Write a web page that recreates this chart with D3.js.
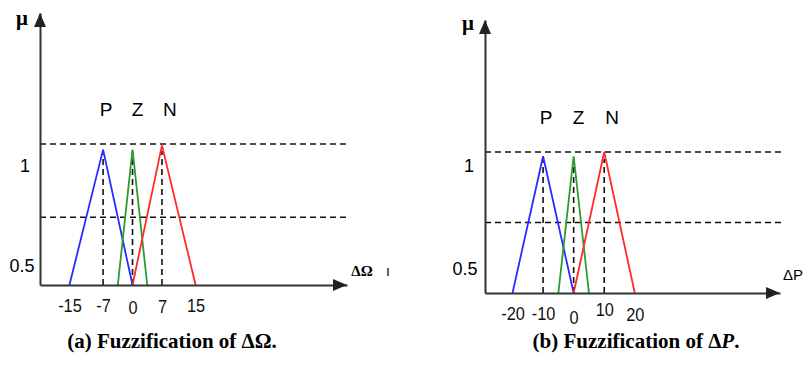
<!DOCTYPE html>
<html>
<head>
<meta charset="utf-8">
<script src="https://cdn.jsdelivr.net/npm/d3@7"></script>
<style>
  body { margin: 0; background: #fff; }
  svg { display: block; }
  .tick text { font-family: "Liberation Sans", Arial, sans-serif; }
</style>
</head>
<body>
<div id="chart-area"></div>
<script>
// fuzzy sets: [start, peak, end] and peak height
var setNames = ["P", "Z", "N"]
var setColors = ["#2b2bff", "#2f9a2f", "#ff2a2a"]

var omegaTicks = [-15, -7, 0, 7, 15]
var omegaSets = [[-15, -7, 0], [-3.5, 0, 3.5], [0, 7, 15]]
var omegaPeaks = [0.96, 0.96, 0.99]
var omegaDash = [1, 0.48]

var powerTicks = [-20, -10, 0, 10, 20]
var powerSets = [[-20, -10, 0], [-5, 0, 5], [0, 10, 20]]
var powerPeaks = [0.97, 0.97, 1.0]
var powerDash = [1, 0.5]

var yLabels = ["1", "0.5"]

// layout for the two panels
var panels = [
    {
        ticks: omegaTicks, sets: omegaSets, peaks: omegaPeaks, dash: omegaDash,
        xDomain: [-22, 51], xRange: [40, 347], yBase: 285, yTop: 13,
        tickDy: [0, 0, 2, 1, 0], yLabelPos: [[25, 172], [22, 272]],
        muPos: [22, 25], xLabel: "ΔΩ", xLabelPos: [362, 276], xLabelBold: true,
        caption: ["(a) Fuzzification of ΔΩ.", ""], captionX: 172
    },
    {
        ticks: powerTicks, sets: powerSets, peaks: powerPeaks, dash: powerDash,
        xDomain: [-29, 67.5], xRange: [485, 780], yBase: 293, yTop: 20,
        tickDy: [0, 0, 4, -4, 1], yLabelPos: [[469, 172], [465, 275]],
        muPos: [468, 30], xLabel: "ΔP", xLabelPos: [793, 280], xLabelBold: false,
        caption: ["(b) Fuzzification of Δ", "P", "."], captionX: 636
    }
]
var nameDx = [3, 5, 8]

var svg = d3.select("#chart-area").append("svg")
    .attr("width", 809)
    .attr("height", 365)

panels.forEach(function(p) {
    var x = d3.scaleLinear().domain(p.xDomain).range(p.xRange)
    // 141 px per unit of membership
    var y = d3.scaleLinear().domain([0, (p.yBase - p.yTop) / 141]).range([p.yBase, p.yTop])
    var x0 = p.xRange[0]
    var g = svg.append("g")

    // dashed horizontal levels
    g.selectAll(".hdash")
        .data(p.dash)
        .enter().append("line")
        .attr("x1", x0).attr("x2", p.xRange[1] + 3)
        .attr("y1", function(d) { return y(d) })
        .attr("y2", function(d) { return y(d) })
        .attr("stroke", "#111").attr("stroke-width", 1.6)
        .attr("stroke-dasharray", "6,4")

    // dashed verticals under each peak
    g.selectAll(".vdash")
        .data(p.sets)
        .enter().append("line")
        .attr("x1", function(d) { return x(d[1]) })
        .attr("x2", function(d) { return x(d[1]) })
        .attr("y1", y(0))
        .attr("y2", y(0.95))
        .attr("stroke", "#111").attr("stroke-width", 1.6)
        .attr("stroke-dasharray", "6,4")

    // triangles
    var line = d3.line()
        .x(function(d) { return x(d[0]) })
        .y(function(d) { return y(d[1]) })
    g.selectAll(".tri")
        .data(p.sets)
        .enter().append("path")
        .attr("d", function(d, i) {
            return line([[d[0], 0], [d[1], p.peaks[i]], [d[2], 0]])
        })
        .attr("fill", "none")
        .attr("stroke", function(d, i) { return setColors[i] })
        .attr("stroke-width", 1.8)

    // set names
    g.selectAll(".name")
        .data(p.sets)
        .enter().append("text")
        .attr("x", function(d, i) { return x(d[1]) + nameDx[i] })
        .attr("y", y(1.2))
        .attr("text-anchor", "middle")
        .style("font-family", "Liberation Sans, Arial, sans-serif")
        .style("font-size", "19px")
        .text(function(d, i) { return setNames[i] })

    // x axis
    var xAxis = d3.axisBottom(x)
        .tickValues(p.ticks)
        .tickFormat(function(d) { return String(d) })
        .tickSize(0)
        .tickSizeOuter(0)
        .tickPadding(8)
    var ax = g.append("g")
        .attr("transform", "translate(0," + p.yBase + ")")
        .call(xAxis)
    ax.select(".domain").attr("stroke", "#333").attr("stroke-width", 2)
    ax.selectAll(".tick text")
        .attr("dy", function(d, i) { return (p.tickDy[i] + 19) + "px" })
        .attr("transform", "scale(0.86,1)")
        .style("font-size", "19px")
        .attr("fill", "#111")

    // y axis
    var yAxis = d3.axisLeft(y).tickValues([]).tickSize(0).tickSizeOuter(0)
    var ay = g.append("g")
        .attr("transform", "translate(" + x0 + ",0)")
        .call(yAxis)
    ay.select(".domain").attr("stroke", "#333").attr("stroke-width", 2)

    // arrow heads
    var xe = p.xRange[1]
    g.append("path")
        .attr("d", "M" + xe + "," + p.yBase + "L" + (xe - 14) + "," + (p.yBase - 6) + "L" + (xe - 14) + "," + (p.yBase + 6) + "Z")
        .attr("fill", "#222")
    g.append("path")
        .attr("d", "M" + x0 + "," + p.yTop + "L" + (x0 - 6) + "," + (p.yTop + 14) + "L" + (x0 + 6) + "," + (p.yTop + 14) + "Z")
        .attr("fill", "#222")

    // y labels
    g.selectAll(".ylab")
        .data(yLabels)
        .enter().append("text")
        .attr("x", function(d, i) { return p.yLabelPos[i][0] })
        .attr("y", function(d, i) { return p.yLabelPos[i][1] })
        .attr("text-anchor", "middle")
        .style("font-family", "Liberation Sans, Arial, sans-serif")
        .style("font-size", "18px")
        .text(function(d) { return d })

    // mu
    g.append("text")
        .attr("x", p.muPos[0]).attr("y", p.muPos[1])
        .attr("text-anchor", "middle")
        .style("font-family", "Liberation Serif, serif")
        .style("font-weight", "bold")
        .style("font-size", "21px")
        .text("μ")

    // axis name
    g.append("text")
        .attr("x", p.xLabelPos[0]).attr("y", p.xLabelPos[1])
        .attr("text-anchor", "middle")
        .style("font-family", p.xLabelBold ? "Liberation Serif, serif" : "Liberation Sans, sans-serif")
        .style("font-weight", p.xLabelBold ? "bold" : "normal")
        .style("font-size", "15px")
        .text(p.xLabel)

    // caption
    var cap = g.append("text")
        .attr("x", p.captionX).attr("y", 348)
        .attr("text-anchor", "middle")
        .style("font-family", "Liberation Serif, Times New Roman, serif")
        .style("font-weight", "bold")
        .style("font-size", "21px")
    cap.append("tspan").text(p.caption[0])
    if (p.caption[1]) {
        cap.append("tspan").style("font-style", "italic").text(p.caption[1])
        cap.append("tspan").text(p.caption[2])
    }
})

// stray mark after the first axis name
svg.append("text")
    .attr("x", 386).attr("y", 276)
    .style("font-family", "Liberation Sans, sans-serif")
    .style("font-size", "14px")
    .text("ı")
</script>
</body>
</html>
